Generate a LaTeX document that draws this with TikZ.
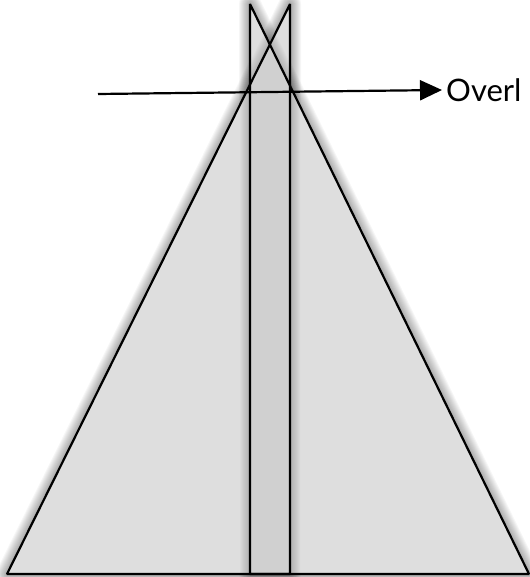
\documentclass[tikz,border=0pt]{standalone}
\usepackage{fontspec}
\setmainfont{Lato}
\usetikzlibrary{arrows.meta}
\definecolor{fillg}{gray}{0.872}
\definecolor{overg}{gray}{0.815}
\tikzset{
  shadowstroke/.style={draw=black, opacity=0.035, line join=round},
  innershadow/.style={draw=black, opacity=0.02, line join=round},
  outline/.style={draw=black, line width=2.2pt, line join=bevel},
  pointer/.style={draw=black, line width=2.2pt, -{Triangle[length=22pt,width=20pt]}},
  labeltext/.style={font=\fontsize{31}{36}\selectfont, anchor=west, inner xsep=4pt, inner ysep=0pt}
}
\begin{document}
\begin{tikzpicture}[x=1pt,y=-1pt]
\useasboundingbox (0,0) rectangle (529,577);
\coordinate (a1) at (7,574);
\coordinate (a2) at (290,4);
\coordinate (a3) at (290,574);
\coordinate (b1) at (250,4);
\coordinate (b2) at (250,574);
\coordinate (b3) at (529,574);
% soft shadows
\foreach \w in {2,4,...,22}{
  \draw[shadowstroke, line width=\w pt] (a1) -- (a2) -- (a3) -- cycle;
  \draw[shadowstroke, line width=\w pt] (b1) -- (b2) -- (b3) -- cycle;
}
% fills
\fill[fillg] (a1) -- (a2) -- (a3) -- cycle;
\fill[fillg] (b1) -- (b2) -- (b3) -- cycle;
% shadows seen through the translucent shapes
\begin{scope}
  \clip (a1) -- (a2) -- (a3) -- cycle;
  \foreach \w in {2,4,...,20}{
    \draw[innershadow, line width=\w pt] (b1) -- (b2) -- (b3) -- cycle;
  }
\end{scope}
\begin{scope}
  \clip (b1) -- (b2) -- (b3) -- cycle;
  \foreach \w in {2,4,...,20}{
    \draw[innershadow, line width=\w pt] (a1) -- (a2) -- (a3) -- cycle;
  }
\end{scope}
% overlap
\begin{scope}
  \clip (a1) -- (a2) -- (a3) -- cycle;
  \fill[overg] (b1) -- (b2) -- (b3) -- cycle;
\end{scope}
% outlines
\draw[outline] (a1) -- (a2) -- (a3) -- cycle;
\draw[outline] (b1) -- (b2) -- (b3) -- cycle;
% arrow and label
\coordinate (start) at (98,94);
\node[labeltext] (lbl) at (442,90) {Overl};
\draw[pointer] (start) -- (lbl.west);
\end{tikzpicture}
\end{document}
